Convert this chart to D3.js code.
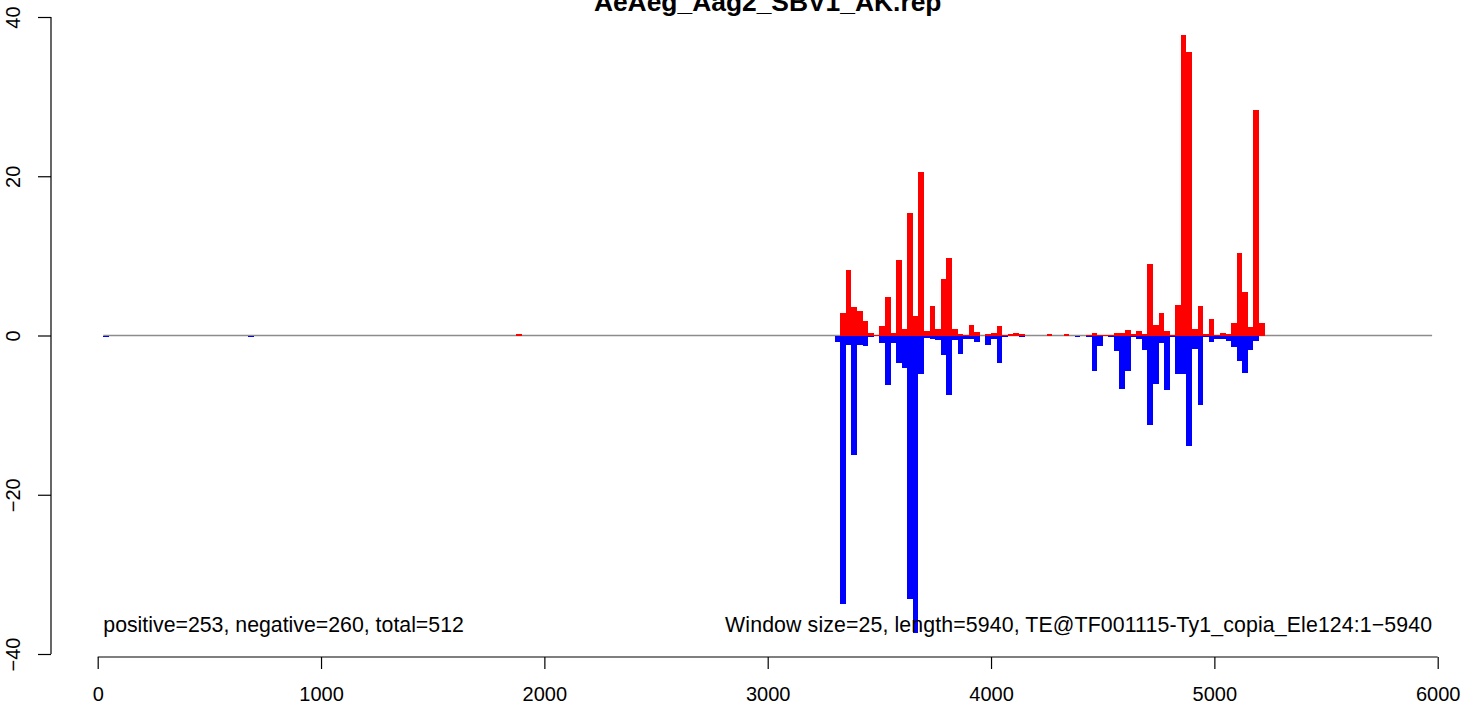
<!DOCTYPE html>
<html>
<head>
<meta charset="utf-8">
<script src="https://cdn.jsdelivr.net/npm/d3@7"></script>
<style>
  html, body { margin: 0; padding: 0; background: #fff; }
  svg { display: block; }
  text { font-family: "Liberation Sans", Arial, Helvetica, sans-serif; }
</style>
</head>
<body>
<script>
// ---------------- data ----------------
const chartTitle = "AeAeg_Aag2_SBV1_AK.rep";
const leftNote = "positive=253, negative=260, total=512";
const rightNote = "Window size=25, length=5940, TE@TF001115-Ty1_copia_Ele124:1\u22125940";
const windowSize = 25;
const xTicks = [0, 1000, 2000, 3000, 4000, 5000, 6000];
const yTicks = [-40, -20, 0, 20, 40];
const baselineRange = [25, 5975];

// window start positions (nt)
const windowStarts = [
  25, 675, 1875,
  3300, 3325, 3350, 3375, 3400, 3425, 3450, 3475, 3500, 3525, 3550, 3575,
  3600, 3625, 3650, 3675, 3700, 3725, 3750, 3775, 3800, 3825, 3850, 3875,
  3900, 3925, 3950, 3975, 4000, 4025, 4050, 4075, 4100, 4125,
  4250, 4325, 4375, 4425,
  4450, 4475, 4500, 4525, 4550, 4575, 4600, 4625, 4650, 4675, 4700, 4725,
  4750, 4775, 4800, 4825, 4850, 4875, 4900, 4925, 4950, 4975, 5000, 5025,
  5050, 5075, 5100, 5125, 5150, 5175, 5200
];
// positive strand counts per window (red, upward)
const positiveValues = [
  0, 0, 0.2,
  0, 2.83, 8.24, 3.58, 3.08, 1.82, 0.3, 0.05, 1.2, 4.84, 0.3, 9.5,
  0.8, 15.4, 2.45, 20.57, 0.56, 3.7, 0.8, 7.1, 9.75, 0.8, 0.2, 0.05,
  1.3, 0.5, 0, 0.2, 0.3, 1.2, 0.05, 0.15, 0.3, 0.15,
  0.15, 0.15, 0, 0.05,
  0.3, 0.1, 0.1, 0.1, 0.3, 0.3, 0.7, 0.15, 0.56, 0.15, 9.0, 1.32,
  2.83, 0.56, 0.1, 3.84, 37.8, 35.66, 0.82, 3.71, 0.15, 2.08, 0.05, 0.3,
  0.2, 1.57, 10.38, 5.47, 1.07, 28.36, 1.57
];
// negative strand counts per window (blue, downward)
const negativeValues = [
  -0.15, -0.1, 0,
  -0.78, -33.7, -1.2, -15.0, -1.2, -1.3, -0.2, 0, -0.9, -6.2, -0.9, -3.4,
  -4.05, -33.1, -37.4, -4.8, -0.3, -0.5, -0.6, -2.5, -7.45, -0.6, -2.3, -0.5,
  -0.5, -0.8, 0, -1.15, -0.4, -3.4, -0.1, 0, 0, -0.05,
  0, 0, -0.1, -0.2,
  -4.4, -1.3, 0, -0.25, -1.9, -6.7, -4.4, -0.2, -0.5, -1.8, -11.2, -6.06,
  -1.0, -6.9, -0.2, -4.8, -4.8, -13.9, -1.66, -8.7, -0.2, -0.8, -0.5, -0.5,
  -0.7, -1.5, -3.2, -4.7, -1.8, -0.7, 0
];

// ---------------- drawing ----------------
const W = 1480, H = 707;
const svg = d3.select("body").append("svg").attr("width", W).attr("height", H);
svg.append("rect").attr("width", W).attr("height", H).attr("fill", "#fff");

const x = d3.scaleLinear().domain([0, 6000]).range([97.7, 1437.7]);
const y = d3.scaleLinear().domain([-40, 40]).range([654, 17]);

const font = 20;

// grey baseline
svg.append("line")
  .attr("x1", x(baselineRange[0])).attr("x2", x(baselineRange[1]))
  .attr("y1", y(0)).attr("y2", y(0))
  .attr("stroke", "#8c8c8c").attr("stroke-width", 1.4);

const rows = windowStarts.map((s, i) => ({ s, pos: positiveValues[i], neg: negativeValues[i] }));

function barRect(v) {
  const y0 = y(0), y1 = y(v);
  const h = Math.max(1, Math.abs(y1 - y0));
  return v >= 0 ? { top: y0 - h, h } : { top: y0, h };
}

svg.append("g").selectAll("rect")
  .data(rows.filter(d => d.neg !== 0))
  .join("rect")
  .attr("x", d => x(d.s))
  .attr("width", d => x(d.s + windowSize) - x(d.s))
  .attr("y", d => barRect(d.neg).top)
  .attr("height", d => barRect(d.neg).h)
  .attr("fill", "#0000ff")
  .attr("shape-rendering", "crispEdges");

svg.append("g").selectAll("rect")
  .data(rows.filter(d => d.pos !== 0))
  .join("rect")
  .attr("x", d => x(d.s))
  .attr("width", d => x(d.s + windowSize) - x(d.s))
  .attr("y", d => barRect(d.pos).top)
  .attr("height", d => barRect(d.pos).h)
  .attr("fill", "#ff0000")
  .attr("shape-rendering", "crispEdges");

// x axis
const xAxisY = 657;
const xAxis = d3.axisBottom(x).tickValues(xTicks).tickSize(12).tickPadding(20)
  .tickFormat(d3.format("d"));
const gx = svg.append("g").attr("transform", `translate(0,${xAxisY})`).call(xAxis);
gx.select(".domain").attr("d", `M${x(0)},0H${x(6000)}`).attr("stroke", "#000").attr("stroke-width", 1.2);
gx.selectAll(".tick line").attr("stroke", "#000").attr("stroke-width", 1.2);
gx.selectAll(".tick text")
  .attr("font-size", font).attr("fill", "#000")
  .attr("font-family", "'Liberation Sans', Arial, sans-serif")
  .attr("dy", null).attr("y", 44);

// y axis
const yAxisX = 51;
const yAxis = d3.axisLeft(y).tickValues(yTicks).tickSize(13)
  .tickFormat(d => d < 0 ? "\u2212" + Math.abs(d) : String(d));
const gy = svg.append("g").attr("transform", `translate(${yAxisX},0)`).call(yAxis);
gy.select(".domain").attr("d", `M0,${y(40)}V${y(-40)}`).attr("stroke", "#000").attr("stroke-width", 1.2);
gy.selectAll(".tick line").attr("stroke", "#000").attr("stroke-width", 1.2);
gy.selectAll(".tick text")
  .attr("font-size", font).attr("fill", "#000")
  .attr("font-family", "'Liberation Sans', Arial, sans-serif")
  .attr("x", null).attr("dy", null)
  .attr("text-anchor", "middle")
  .attr("transform", "translate(-31,0) rotate(-90)");

// title (partly above the top edge, as in the reference)
svg.append("text")
  .attr("x", (x(0) + x(6000)) / 2).attr("y", 11)
  .attr("text-anchor", "middle")
  .attr("font-size", 26.4).attr("font-weight", "bold")
  .text(chartTitle);

// notes
svg.append("text")
  .attr("x", x(baselineRange[0])).attr("y", 632)
  .attr("font-size", 21.3)
  .text(leftNote);
svg.append("text")
  .attr("x", x(baselineRange[1])).attr("y", 632)
  .attr("text-anchor", "end")
  .attr("font-size", 21.3)
  .attr("textLength", 707).attr("lengthAdjust", "spacing")
  .text(rightNote);
</script>
</body>
</html>
